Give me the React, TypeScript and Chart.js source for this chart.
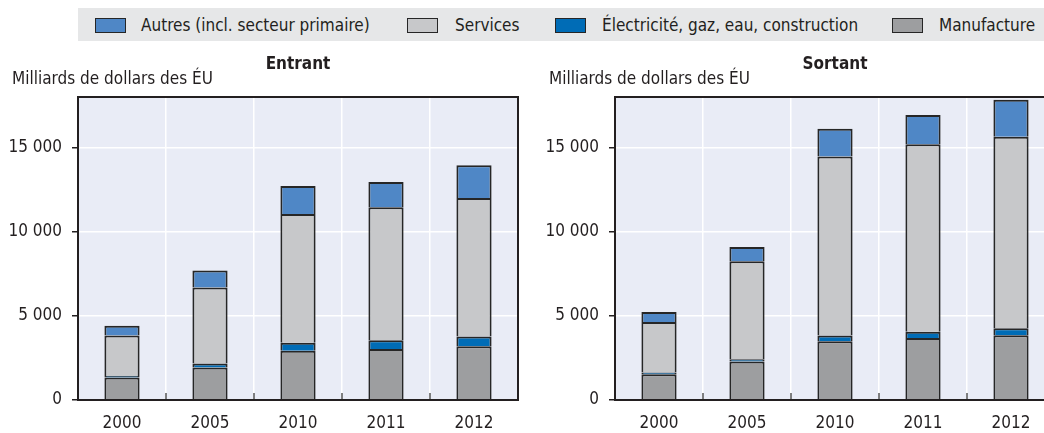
import React, { useEffect, useRef } from 'react';
import { Chart, registerables } from 'chart.js';
Chart.register(...registerables);

const categories = ['2000', '2005', '2010', '2011', '2012'];
const seriesNames = ['Autres (incl. secteur primaire)', 'Services', 'Électricité, gaz, eau, construction', 'Manufacture'];
const inManufacture = [1330, 1925, 2920, 3035, 3195];
const inElectricite = [100, 240, 475, 515, 575];
const inServices = [2400, 4525, 7660, 7895, 8235];
const inAutres = [575, 1010, 1665, 1510, 1945];
const outManufacture = [1530, 2280, 3490, 3690, 3850];
const outElectricite = [100, 140, 340, 360, 415];
const outServices = [3000, 5830, 10635, 11150, 11370];
const outAutres = [595, 835, 1645, 1725, 2200];
const yTicks = [0, 5000, 10000, 15000];
const yMax = 18000;
const unitLabel = 'Milliards de dollars des ÉU';
const titles = ['Entrant', 'Sortant'];

const COLORS = ['#4f87c6', '#c7c8ca', '#006cb6', '#9d9ea0'];
const BORDER = '#262626';
const TEXT = '#231f20';
const PLOT_BG = '#e9ecf6';
const FONT = '"DejaVu Sans Condensed", "Liberation Sans Narrow", sans-serif';
const FS = 17;

Chart.defaults.font.family = FONT;
Chart.defaults.font.size = FS;
Chart.defaults.color = TEXT;

const fmt = (v: number) => String(v).replace(/\B(?=(\d{3})+(?!\d))/g, ' ');

function panelPlugin(title: string) {
  return {
    id: 'panel',
    beforeDraw(c: any) {
      const { ctx, chartArea: a } = c;
      ctx.save();
      ctx.fillStyle = PLOT_BG;
      ctx.fillRect(a.left, a.top, a.right - a.left, a.bottom - a.top);
      ctx.restore();
    },
    afterDraw(c: any) {
      const { ctx, chartArea: a } = c;
      const xs = c.scales.x;
      ctx.save();
      // small tick marks inside plot at category boundaries
      ctx.strokeStyle = '#555';
      ctx.lineWidth = 1.5;
      for (let i = 0; i < categories.length - 1; i++) {
        const p = (xs.getPixelForValue(i) + xs.getPixelForValue(i + 1)) / 2;
        ctx.beginPath();
        ctx.moveTo(p, a.bottom);
        ctx.lineTo(p, a.bottom - 7);
        ctx.stroke();
      }
      // frame
      ctx.strokeStyle = TEXT;
      ctx.lineWidth = 2;
      ctx.strokeRect(a.left, a.top, a.right - a.left, a.bottom - a.top);
      // title
      ctx.fillStyle = TEXT;
      ctx.textBaseline = 'alphabetic';
      ctx.textAlign = 'center';
      ctx.font = `bold ${FS}px ${FONT}`;
      ctx.fillText(title, (a.left + a.right) / 2, 24);
      // unit label
      ctx.textAlign = 'left';
      ctx.font = `${FS}px ${FONT}`;
      ctx.fillText(unitLabel, 12, 39);
      ctx.restore();
    },
  };
}

function Panel({ title, manuf, elec, serv, autres, left }: any) {
  const ref = useRef<HTMLCanvasElement>(null);
  useEffect(() => {
    const chart = new Chart(ref.current!, {
      type: 'bar',
      data: {
        labels: categories,
        datasets: [
          { label: seriesNames[3], data: manuf, backgroundColor: COLORS[3] },
          { label: seriesNames[2], data: elec, backgroundColor: COLORS[2] },
          { label: seriesNames[1], data: serv, backgroundColor: COLORS[1] },
          { label: seriesNames[0], data: autres, backgroundColor: COLORS[0] },
        ],
      },
      options: {
        animation: false,
        responsive: false,
        maintainAspectRatio: false,
        layout: { padding: { top: 52, right: 4, left: 0, bottom: 0 } },
        datasets: {
          bar: {
            barPercentage: 0.4,
            categoryPercentage: 1,
            borderColor: BORDER,
            borderWidth: { top: 2, left: 2, right: 2, bottom: 0 },
            borderSkipped: false,
          },
        },
        plugins: {
          legend: { display: false },
          tooltip: { enabled: false },
          title: { display: false },
        },
        scales: {
          x: {
            stacked: true,
            offset: true,
            grid: { offset: true, color: '#ffffff', lineWidth: 1.5, drawTicks: false },
            border: { display: false },
            ticks: { color: TEXT, padding: 13, font: { size: FS }, maxRotation: 0 },
            afterFit: (s: any) => {
              s.height = 33;
            },
          },
          y: {
            stacked: true,
            min: 0,
            max: yMax,
            afterBuildTicks: (s: any) => {
              s.ticks = yTicks.map((v) => ({ value: v }));
            },
            ticks: {
              padding: 10,
              color: TEXT,
              font: { size: FS },
              callback: (v: any) => fmt(Number(v)),
            },
            grid: {
              color: (ctx: any) => (ctx.tick && ctx.tick.value === 0 ? 'rgba(0,0,0,0)' : '#ffffff'),
              lineWidth: 1.5,
              tickColor: TEXT,
              tickLength: 6,
              drawTicks: true,
            },
            border: { display: false },
            afterFit: (s: any) => {
              s.width = 78;
            },
          },
        },
      } as any,
      plugins: [panelPlugin(title) as any],
    });
    return () => chart.destroy();
  }, []);
  return (
    <canvas
      ref={ref}
      width={522}
      height={388}
      style={{ position: 'absolute', left, top: 45, width: 522, height: 388 }}
    />
  );
}

const legendBoxX = [95, 407, 555, 892];
const legendTextX = [141, 455, 602, 939];

export default function App() {
  return (
    <div
      style={{
        position: 'fixed',
        left: 0,
        top: 0,
        width: 1044,
        height: 433,
        overflow: 'hidden',
        background: '#ffffff',
      }}
    >
      <div
        style={{
          position: 'absolute',
          left: 78,
          top: 8,
          width: 966,
          height: 33,
          background: '#e6e7e8',
        }}
      />
      {seriesNames.map((n, i) => (
        <React.Fragment key={n}>
          <div
            style={{
              position: 'absolute',
              left: legendBoxX[i],
              top: 18,
              width: 29,
              height: 13,
              background: COLORS[i],
              border: `1.5px solid ${BORDER}`,
            }}
          />
          <div
            style={{
              position: 'absolute',
              left: legendTextX[i],
              top: 13,
              fontFamily: FONT,
              fontSize: FS,
              lineHeight: '24px',
              color: TEXT,
              whiteSpace: 'nowrap',
            }}
          >
            {n}
          </div>
        </React.Fragment>
      ))}
      <Panel title={titles[0]} manuf={inManufacture} elec={inElectricite} serv={inServices} autres={inAutres} left={0} />
      <Panel title={titles[1]} manuf={outManufacture} elec={outElectricite} serv={outServices} autres={outAutres} left={537} />
    </div>
  );
}
